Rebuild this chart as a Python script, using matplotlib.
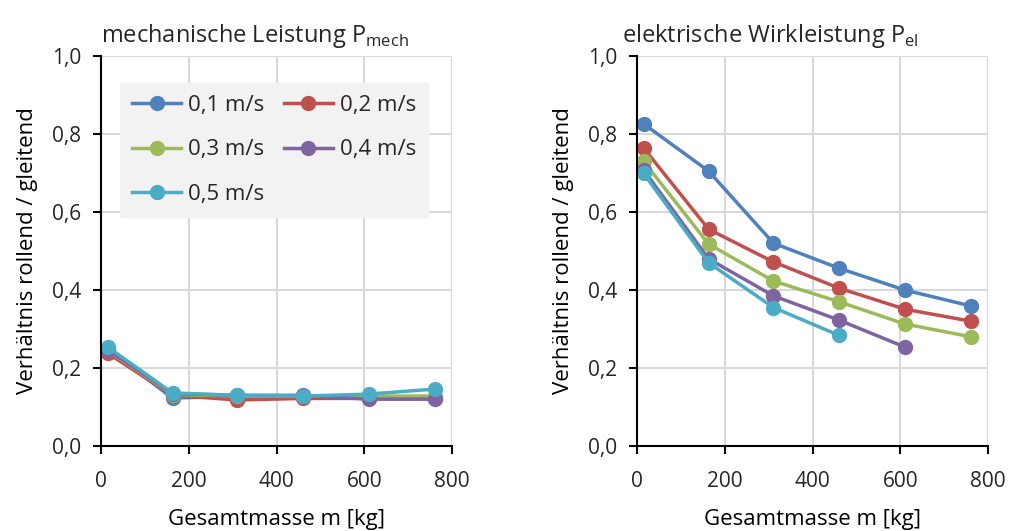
import numpy as np
import matplotlib.pyplot as plt
from matplotlib.ticker import FuncFormatter

plt.rcParams['font.family'] = ['Open Sans', 'DejaVu Sans']
plt.rcParams['mathtext.fontset'] = 'custom'
plt.rcParams['mathtext.rm'] = 'Open Sans'
plt.rcParams['text.color'] = '#262626'

masse = [15, 163, 311, 460, 610, 761]
labels = ['0,1 m/s', '0,2 m/s', '0,3 m/s', '0,4 m/s', '0,5 m/s']
colors = ['#4F81BD', '#C0504D', '#9BBB59', '#8064A2', '#4BACC6']

# mechanische Leistung
mech_01 = [0.248, 0.123, 0.127, 0.127, 0.127, 0.122]
mech_02 = [0.238, 0.130, 0.118, 0.122, 0.122, 0.122]
mech_03 = [0.245, 0.132, 0.128, 0.128, 0.128, 0.128]
mech_04 = [0.247, 0.134, 0.130, 0.130, 0.120, 0.120]
mech_05 = [0.254, 0.136, 0.130, 0.128, 0.133, 0.146]

# elektrische Wirkleistung
el_01 = [0.826, 0.705, 0.520, 0.456, 0.400, 0.359]
el_02 = [0.764, 0.556, 0.472, 0.405, 0.351, 0.320]
el_03 = [0.730, 0.518, 0.423, 0.370, 0.313, 0.280]
el_04 = [0.708, 0.480, 0.385, 0.323, 0.254]
el_05 = [0.699, 0.470, 0.355, 0.284]

mech = [mech_01, mech_02, mech_03, mech_04, mech_05]
el = [el_01, el_02, el_03, el_04, el_05]

fig = plt.figure(figsize=(10.1, 5.31), dpi=100)
ax1 = fig.add_axes([101/1010, 1-446/531, 351/1010, 390/531])
ax2 = fig.add_axes([637/1010, 1-446/531, 351/1010, 390/531])

komma = FuncFormatter(lambda v, p: ('%.1f' % v).replace('.', ','))

for ax, data in [(ax1, mech), (ax2, el)]:
    for y, c, lab in zip(data, colors, labels):
        ax.plot(masse[:len(y)], y, color=c, lw=2.5, marker='o', ms=10, label=lab)
    ax.set_xlim(0, 800)
    ax.set_ylim(0, 1.0)
    ax.set_xticks([0, 200, 400, 600, 800])
    ax.set_yticks(np.arange(0, 1.01, 0.2))
    ax.yaxis.set_major_formatter(komma)
    ax.grid(True, color='#d9d9d9', lw=1.5)
    ax.set_axisbelow(True)
    for s in ['top', 'right']:
        ax.spines[s].set_visible(False)
    ax.spines['left'].set_linewidth(1.5)
    ax.spines['bottom'].set_linewidth(1.5)
    ax.tick_params(direction='out', length=6, width=1.5, labelsize=15,
                   labelcolor='#262626')
    ax.tick_params(axis='x', pad=12)
    ax.tick_params(axis='y', pad=8)
    ax.set_xlabel('Gesamtmasse m [kg]', fontsize=16, labelpad=12)
    ax.set_ylabel('Verhältnis rollend / gleitend', fontsize=16, labelpad=10)

ax1.set_title(r'mechanische Leistung P$_{\mathregular{mech}}$', fontsize=17, x=0.44, pad=10)
ax2.set_title(r'elektrische Wirkleistung P$_{\mathregular{el}}$', fontsize=17, x=0.38, pad=10)

h, l = ax1.get_legend_handles_labels()
order = [0, 2, 4, 1, 3]
leg = ax1.legend([h[i] for i in order], [l[i] for i in order], ncol=2,
                 loc='upper left', bbox_to_anchor=(0.054, 0.931), borderaxespad=0,
                 fontsize=16, frameon=True, fancybox=False, handlelength=2.2,
                 columnspacing=0.9, borderpad=0.55, labelspacing=1.05, handletextpad=0.3)
leg.get_frame().set_facecolor('#f2f2f2')
leg.get_frame().set_edgecolor('#f2f2f2')
leg.get_frame().set_alpha(1)

fig.savefig('out.png', dpi=100)
